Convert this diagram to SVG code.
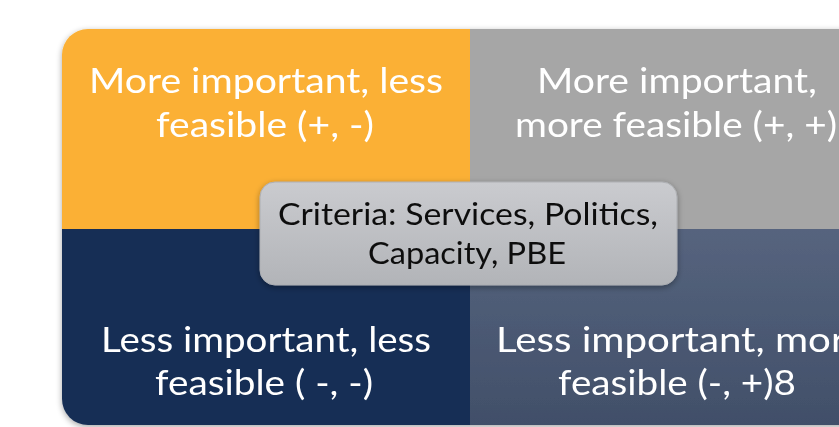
<svg xmlns="http://www.w3.org/2000/svg" width="839" height="427" viewBox="0 0 839 427">
  <defs>
    <style>
      .cell-label { font-family: Lato, "Open Sans", "Liberation Sans", sans-serif; font-size: 35px; fill: #ffffff; text-anchor: middle; }
      .center-label { font-family: Lato, "Open Sans", "Liberation Sans", sans-serif; font-size: 30px; fill: #111111; text-anchor: middle; }
    </style>
    <clipPath id="gridClip">
      <rect x="62" y="29" width="820" height="396" rx="26" ry="26"/>
    </clipPath>
    <linearGradient id="slateGrad" x1="0" y1="0" x2="0" y2="1">
      <stop offset="0" stop-color="#56647e"/>
      <stop offset="1" stop-color="#414f69"/>
    </linearGradient>
    <linearGradient id="boxGrad" x1="0" y1="0" x2="0" y2="1">
      <stop offset="0" stop-color="#cacbcf"/>
      <stop offset="1" stop-color="#b2b4b8"/>
    </linearGradient>
    <filter id="softShadow" x="-10%" y="-10%" width="120%" height="130%">
      <feGaussianBlur in="SourceAlpha" stdDeviation="3"/>
      <feOffset dx="0" dy="2" result="blur"/>
      <feComponentTransfer><feFuncA type="linear" slope="0.35"/></feComponentTransfer>
      <feMerge><feMergeNode/><feMergeNode in="SourceGraphic"/></feMerge>
    </filter>
  </defs>

  <rect x="0" y="0" width="839" height="427" fill="#ffffff"/>

  <!-- quadrant matrix -->
  <g filter="url(#softShadow)">
    <g clip-path="url(#gridClip)">
      <g id="q-more-important-less-feasible">
        <rect x="62" y="29" width="408" height="200" fill="#fbb034"/>
        <text class="cell-label" x="266" y="93" textLength="354" lengthAdjust="spacingAndGlyphs">More important, less</text>
        <text class="cell-label" x="265" y="137" textLength="218" lengthAdjust="spacingAndGlyphs">feasible (+, -)</text>
      </g>
      <g id="q-more-important-more-feasible">
        <rect x="470" y="29" width="412" height="200" fill="#a6a6a6"/>
        <text class="cell-label" x="677" y="93" textLength="280" lengthAdjust="spacingAndGlyphs">More important,</text>
        <text class="cell-label" x="676" y="137" textLength="322" lengthAdjust="spacingAndGlyphs">more feasible (+, +)</text>
      </g>
      <g id="q-less-important-less-feasible">
        <rect x="62" y="229" width="408" height="196" fill="#172f55"/>
        <text class="cell-label" x="266" y="352" textLength="330" lengthAdjust="spacingAndGlyphs">Less important, less</text>
        <text class="cell-label" x="264" y="395" textLength="218" lengthAdjust="spacingAndGlyphs">feasible ( -, -)</text>
      </g>
      <g id="q-less-important-more-feasible">
        <rect x="470" y="229" width="412" height="196" fill="url(#slateGrad)"/>
        <text class="cell-label" x="496" y="352" style="text-anchor:start" textLength="370" lengthAdjust="spacingAndGlyphs">Less important, more</text>
        <text class="cell-label" x="677" y="395" textLength="238" lengthAdjust="spacingAndGlyphs">feasible (-, +)8</text>
      </g>
    </g>
  </g>

  <!-- criteria box in the middle -->
  <g id="criteria" filter="url(#softShadow)">
    <rect x="260" y="182" width="417" height="103" rx="15" ry="15" fill="url(#boxGrad)" stroke="#adafb3" stroke-width="1"/>
    <text class="center-label" x="468" y="225" textLength="380" lengthAdjust="spacingAndGlyphs">Criteria: Services, Politics,</text>
    <text class="center-label" x="467" y="264" textLength="198" lengthAdjust="spacingAndGlyphs">Capacity, PBE</text>
  </g>
</svg>
